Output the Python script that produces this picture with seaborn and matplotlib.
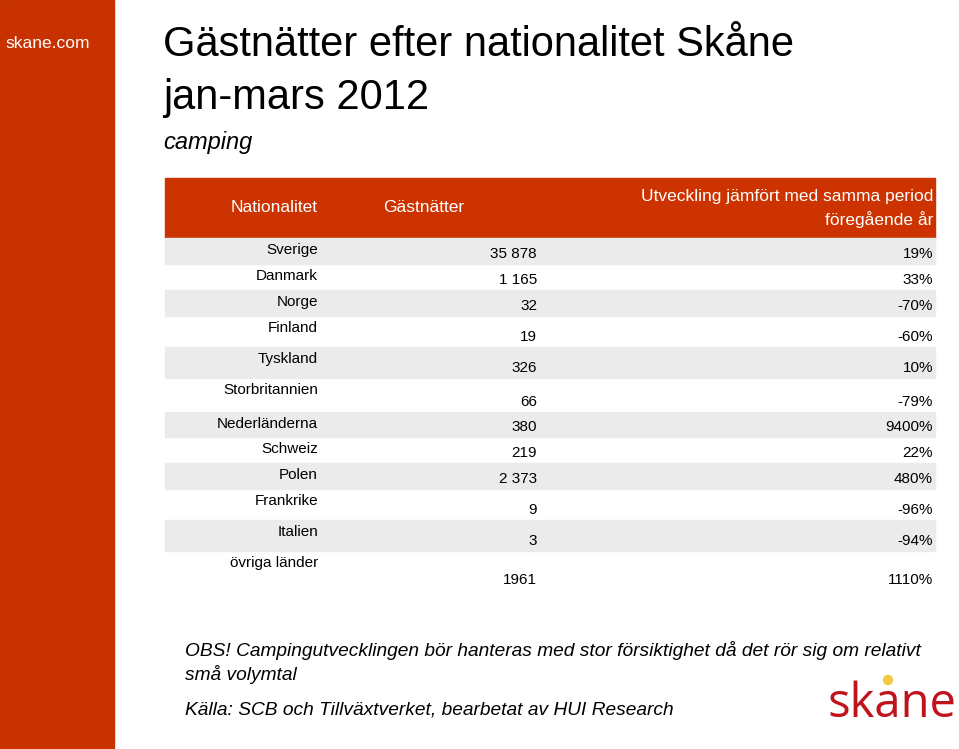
import matplotlib.pyplot as plt
import matplotlib.patches as mpatches
import seaborn as sns

# table data
nationalities = ['Sverige', 'Danmark', 'Norge', 'Finland', 'Tyskland', 'Storbritannien',
                 'Nederländerna', 'Schweiz', 'Polen', 'Frankrike', 'Italien', 'övriga länder']
guest_nights = ['35 878', '1 165', '32', '19', '326', '66', '380', '219', '2 373', '9', '3', '1961']
change = ['19%', '33%', '-70%', '-60%', '10%', '-79%', '9400%', '22%', '480%', '-96%', '-94%', '1110%']

# row band edges (pixels)
row_edges = [238, 264, 290, 316, 347, 378, 412, 437, 463, 489, 520, 551, 590]

sns.set_style('white')
plt.rcParams['text.color'] = 'black'
plt.rcParams['font.family'] = 'Liberation Sans'
red = '#CC3300'
fig = plt.figure(figsize=(9.59, 7.49), dpi=100)
ax = fig.add_axes([0, 0, 1, 1])
ax.set_xlim(0, 959)
ax.set_ylim(749, 0)
ax.axis('off')

ax.add_patch(mpatches.Rectangle((0, 0), 114, 749, color='#C83200'))
ax.text(5, 44, 'skane.com', color='white', fontsize=12.5, va='center')

ax.text(163, 45, 'Gästnätter efter nationalitet Skåne', fontsize=30, va='center')
ax.text(163, 98, 'jan-mars 2012', fontsize=30, va='center')
ax.text(163, 142, 'camping', fontsize=17, style='italic', va='center')

# header
ax.add_patch(mpatches.Rectangle((165, 178), 770, 60, color=red))
ax.text(318, 208, 'Nationalitet', color='white', fontsize=12.5, ha='right', va='center')
ax.text(383, 208, 'Gästnätter', color='white', fontsize=12.5, ha='left', va='center')
ax.text(933, 197, 'Utveckling jämfört med samma period', color='white', fontsize=12.5, ha='right', va='center')
ax.text(933, 220, 'föregående år', color='white', fontsize=12.5, ha='right', va='center')

for i, (name, val, pct) in enumerate(zip(nationalities, guest_nights, change)):
    top, bottom = row_edges[i], row_edges[i + 1]
    if i % 2 == 0:
        ax.add_patch(mpatches.Rectangle((165, top), 770, bottom - top, color='#EBEBEB'))
    ax.text(318, top + 12, name, fontsize=11, ha='right', va='center')
    ax.text(537, bottom - 10, val, fontsize=11, ha='right', va='center')
    ax.text(933, bottom - 10, pct, fontsize=11, ha='right', va='center')

ax.text(185, 651, 'OBS! Campingutvecklingen bör hanteras med stor försiktighet då det rör sig om relativt',
        fontsize=13.8, style='italic', va='center')
ax.text(185, 675, 'små volymtal', fontsize=13.8, style='italic', va='center')
ax.text(185, 710, 'Källa: SCB och Tillväxtverket, bearbetat av HUI Research',
        fontsize=13.8, style='italic', va='center')

# logo
ax.text(892, 704, 'skane', color='#C0141C', fontsize=34, ha='center', va='center', family='Open Sans')
ax.add_patch(mpatches.Circle((888, 680), 4.5, color='#F5C842'))

fig.savefig('out.png', dpi=100)
